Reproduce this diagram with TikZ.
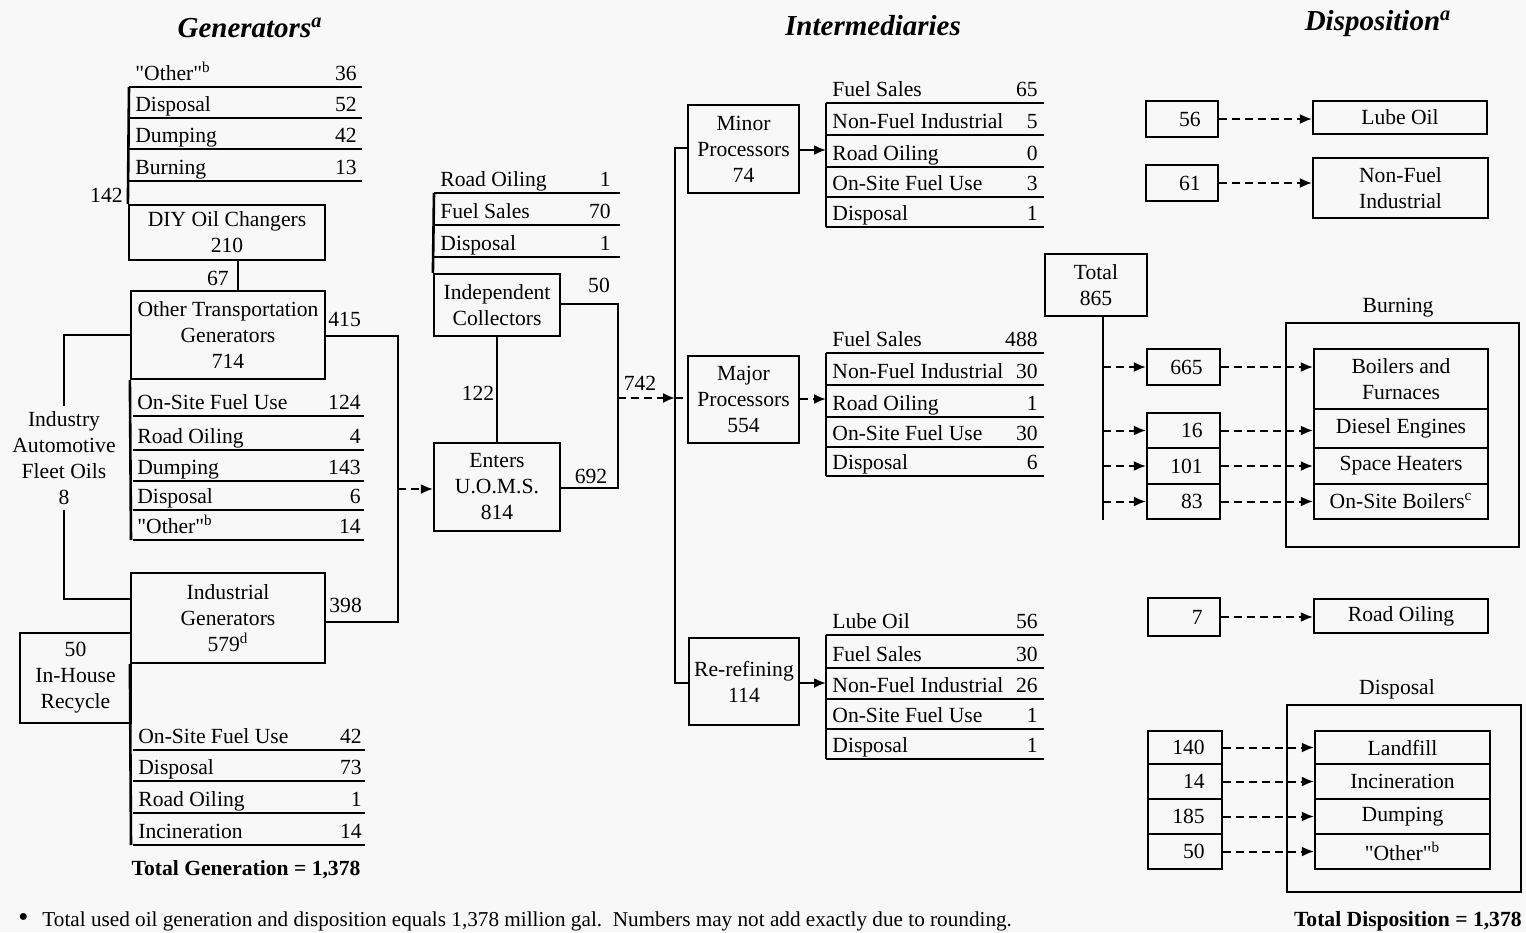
\documentclass[tikz,border=0pt]{standalone}
\usepackage{fontspec}
\setmainfont{Liberation Serif}
\usetikzlibrary{arrows.meta,fit}
\definecolor{bg}{RGB}{248,248,248}
\newcommand\mkbox[6]{%
  \node[box, fit={(#2,#3) (#4,#5)}] (#1) {};
  \node[align=center] (#1t) at (#1.center) {#6};}
\newcommand\mknum[6]{%
  \node[box, fit={(#2,#3) (#4,#5)}] (#1) {};
  \node[anchor=east] (#1t) at ([xshift=-9pt]#1.east) {#6};}
\newcommand\qo{\textquotedbl Other\textquotedbl}
\begin{document}
\begin{tikzpicture}[x=0.5pt,y=-0.5pt,
  every node/.style={font=\fontsize{10.8}{13}\selectfont, inner sep=0pt},
  box/.style={draw, line width=1.1pt, rectangle, inner sep=0pt},
  tl/.style={anchor=base west},
  tr/.style={anchor=base east},
  tc/.style={anchor=base},
  rule/.style={line width=1.3pt},
  conn/.style={line width=1.1pt},
  dconn/.style={line width=1pt, dash pattern=on 4pt off 2.5pt},
  arr/.style={-{Latex[length=6pt,width=5pt]}},
  title/.style={font=\fontsize{14.5}{16}\selectfont\bfseries\itshape},
  bold/.style={font=\fontsize{10.8}{13}\selectfont\bfseries}]
\useasboundingbox (0,0) rectangle (1526,932);
\fill[bg] (0,0) rectangle (1526,932);

% titles
\node[title] (tgen) at (250,28) {Generators\textsuperscript{a}};
\node[title] (tint) at (873,26) {Intermediaries};
\node[title] (tdis) at (1378,24) {Disposition\textsuperscript{a}};

% ---------------- Generators ----------------
\foreach \k/\yy/\lab/\val in {0/87/{\qo\textsuperscript{b}}/36,1/118/Disposal/52,2/149/Dumping/42,3/181/Burning/13}{
  \node[tl] (ga\k) at (135,\yy-7) {\lab};
  \node[tr] (gb\k) at (357,\yy-7) {\val};
  \draw[rule] (129,\yy) -- (362,\yy);}
\mkbox{diy}{129}{205}{325}{260}{DIY Oil Changers\\210}
\draw[rule] (129,87) -- (diy.north west);
\node[tr] (l142) at (123,202) {142};
\coordinate (c67) at (238,0);
\node[tr] (l67) at (229,285) {67};

\mkbox{ot}{131}{291}{325}{379}{Other Transportation\\Generators\\714}
\draw[conn] (diy.south -| c67) -- (ot.north -| c67);
\node[tl] (l415) at (328,326) {415};

\foreach \k/\yy/\lab/\val in {0/416/On-Site Fuel Use/124,1/450/Road Oiling/4,2/481/Dumping/143,3/510/Disposal/6,4/540/{\qo\textsuperscript{b}}/14}{
  \node[tl] (oa\k) at (137,\yy-7) {\lab};
  \node[tr] (ob\k) at (361,\yy-7) {\val};
  \draw[rule] (133,\yy) -- (364,\yy);}
\coordinate (otb) at (131,540);
\draw[rule] (ot.south west) -- (otb);

\node[inner sep=2.5pt, align=center] (iaf) at (64,458) {Industry\\Automotive\\Fleet Oils\\8};
\draw[conn] (iaf.north) |- (ot.west);
\coordinate (b1) at (64,599);

\mkbox{ind}{131}{573}{325}{663}{Industrial\\Generators\\579\textsuperscript{d}}
\draw[conn] (iaf.south) -- (b1) -- (ind.west |- b1);
\mkbox{ihr}{20}{633}{131}{723}{50\\In-House\\Recycle}
\node[tl] (l398) at (329,612) {398};

\foreach \k/\yy/\lab/\val in {0/750/On-Site Fuel Use/42,1/781/Disposal/73,2/813/Road Oiling/1,3/845/Incineration/14}{
  \node[tl] (ia\k) at (138,\yy-7) {\lab};
  \node[tr] (ib\k) at (362,\yy-7) {\val};
  \draw[rule] (133,\yy) -- (365,\yy);}
\coordinate (indb) at (131,845);
\draw[rule] (ind.south west) -- (indb);
\node[bold, tc] (totgen) at (246,875) {Total Generation = 1,378};

% right collector line of generators
\coordinate (r1) at (398,336);
\coordinate (r2) at (398,622);
\coordinate (r3) at (398,489);
\draw[conn] (ot.east |- r1) -- (r1) -- (r2) -- (ind.east |- r2);

% ---------------- Collectors ----------------
\foreach \k/\yy/\lab/\val in {0/193/Road Oiling/1,1/225/Fuel Sales/70,2/257/Disposal/1}{
  \node[tl] (ca\k) at (440,\yy-7) {\lab};
  \node[tr] (cb\k) at (611,\yy-7) {\val};
  \draw[rule] (434,\yy) -- (620,\yy);}
\mkbox{ic}{434}{274}{560}{336}{Independent\\Collectors}
\draw[rule] (434,193) -- (ic.north west);
\mkbox{uoms}{434}{443}{560}{531}{Enters\\U.O.M.S.\\814}
\draw[dconn,arr] (r3) -- (uoms.west |- r3);
\draw[conn] (ic.south) -- (uoms.north);
\node[tc] (l122) at (478,400) {122};
\node[tc] (l50) at (599,292) {50};
\node[tc] (l692) at (591,483) {692};
\coordinate (m1) at (618,304);
\coordinate (m2) at (618,488);
\coordinate (m3) at (618,398);
\draw[conn] (ic.east |- m1) -- (m1) -- (m2) -- (uoms.east |- m2);
\node[tc] (l742) at (640,390) {742};

% ---------------- Intermediaries ----------------
\mkbox{minp}{688}{105}{799}{193}{Minor\\Processors\\74}
\mkbox{majp}{688}{356}{799}{443}{Major\\Processors\\554}
\mkbox{reref}{689}{638}{799}{725}{Re-refining\\114}
\coordinate (tr) at (675,398);
\coordinate (t1) at (675,148);
\coordinate (t2) at (675,683);
\draw[dconn,arr] (m3) -- (tr);
\draw[conn] (minp.west |- t1) -- (t1) -- (t2) -- (reref.west |- t2);
\draw[dconn] (tr) -- (majp.west |- tr);

\foreach \k/\yy/\lab/\val in {0/103/Fuel Sales/65,1/135/Non-Fuel Industrial/5,2/167/Road Oiling/0,3/197/On-Site Fuel Use/3,4/227/Disposal/1}{
  \node[tl] (na\k) at (832,\yy-7) {\lab};
  \node[tr] (nb\k) at (1038,\yy-7) {\val};
  \draw[rule] (826,\yy) -- (1044,\yy);}
\coordinate (mt) at (826,150);
\draw[rule] (826,103) -- (826,227);
\draw[conn,arr] (minp.east |- mt) -- (mt);

\foreach \k/\yy/\lab/\val in {0/353/Fuel Sales/488,1/385/Non-Fuel Industrial/30,2/417/Road Oiling/1,3/447/On-Site Fuel Use/30,4/476/Disposal/6}{
  \node[tl] (ja\k) at (832,\yy-7) {\lab};
  \node[tr] (jb\k) at (1038,\yy-7) {\val};
  \draw[rule] (826,\yy) -- (1044,\yy);}
\coordinate (jt) at (826,399);
\draw[rule] (826,353) -- (826,476);
\draw[dconn,arr] (majp.east |- jt) -- (jt);

\foreach \k/\yy/\lab/\val in {0/635/Lube Oil/56,1/668/Fuel Sales/30,2/699/Non-Fuel Industrial/26,3/729/On-Site Fuel Use/1,4/759/Disposal/1}{
  \node[tl] (ra\k) at (832,\yy-7) {\lab};
  \node[tr] (rb\k) at (1038,\yy-7) {\val};
  \draw[rule] (826,\yy) -- (1044,\yy);}
\coordinate (rt) at (826,683);
\draw[rule] (826,635) -- (826,759);
\draw[conn,arr] (reref.east |- rt) -- (rt);

% ---------------- Disposition ----------------
\mkbox{tot}{1045}{254}{1147}{316}{Total\\865}
\coordinate (d1) at (1103,520);
\draw[conn] (tot.south -| d1) -- (d1);

\mknum{n56}{1146}{101}{1218}{137}{56}
\mknum{n61}{1146}{165}{1218}{201}{61}
\mknum{n665}{1147}{349}{1220}{385}{665}
\mknum{n16}{1147}{413}{1220}{448}{16}
\mknum{n101}{1147}{448}{1220}{484}{101}
\mknum{n83}{1147}{484}{1220}{519}{83}
\mknum{n7}{1148}{598}{1220}{636}{7}
\mknum{n140}{1148}{731}{1222}{764}{140}
\mknum{n14}{1148}{764}{1222}{799}{14}
\mknum{n185}{1148}{799}{1222}{834}{185}
\mknum{n50}{1148}{834}{1222}{869}{50}

\mkbox{lube}{1313}{101}{1487}{134}{Lube Oil}
\mkbox{nfi}{1313}{158}{1488}{218}{Non-Fuel\\Industrial}

\node[tc] (lburn) at (1398,312) {Burning};
\node[box, fit={(1286,323) (1519,547)}] (burn) {};
\mkbox{boil}{1314}{349}{1488}{409}{Boilers and\\Furnaces}
\mkbox{dies}{1314}{409}{1488}{448}{Diesel Engines}
\mkbox{spac}{1314}{448}{1488}{484}{Space Heaters}
\mkbox{onsb}{1314}{484}{1488}{519}{On-Site Boilers\textsuperscript{c}}

\mkbox{road}{1314}{599}{1488}{633}{Road Oiling}

\node[tc] (ldisp) at (1397,694) {Disposal};
\node[box, fit={(1287,705) (1521,892)}] (disp) {};
\mkbox{land}{1315}{731}{1490}{764}{Landfill}
\mkbox{inc}{1315}{764}{1490}{799}{Incineration}
\mkbox{dump}{1315}{799}{1490}{834}{Dumping}
\mkbox{oth}{1315}{834}{1490}{869}{\qo\textsuperscript{b}}

\foreach \n in {n665,n16,n101,n83}{
  \draw[dconn,arr] (d1 |- \n.west) -- (\n.west);}
\draw[dconn,arr] (n56.east) -- (n56.east -| lube.west);
\draw[dconn,arr] (n61.east) -- (n61.east -| nfi.west);
\draw[dconn,arr] (n665.east) -- (n665.east -| boil.west);
\draw[dconn,arr] (n16.east) -- (n16.east -| dies.west);
\draw[dconn,arr] (n101.east) -- (n101.east -| spac.west);
\draw[dconn,arr] (n83.east) -- (n83.east -| onsb.west);
\draw[dconn,arr] (n7.east) -- (n7.east -| road.west);
\draw[dconn,arr] (n140.east) -- (n140.east -| land.west);
\draw[dconn,arr] (n14.east) -- (n14.east -| inc.west);
\draw[dconn,arr] (n185.east) -- (n185.east -| dump.west);
\draw[dconn,arr] (n50.east) -- (n50.east -| oth.west);

\node[bold, anchor=base east] (totdis) at (1522,926) {Total Disposition = 1,378};

% footnote
\node[anchor=base west, font=\fontsize{10.6}{13}\selectfont] (foot) at (18,926) {{\Large\textbullet}\hspace{7pt}Total used oil generation and disposition equals 1,378 million gal.\ \ Numbers may not add exactly due to rounding.};
\end{tikzpicture}
\end{document}
